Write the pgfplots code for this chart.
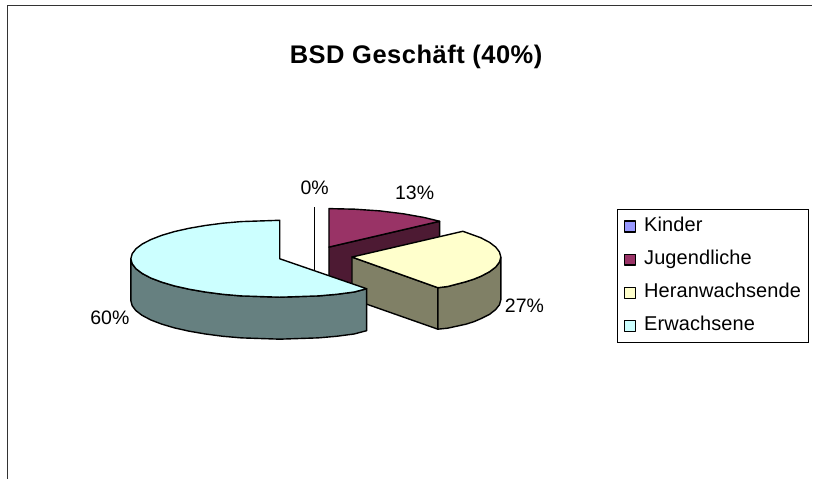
\documentclass[border=0pt]{standalone}
\usepackage{pgfplots}
\pgfplotsset{compat=1.18}
\usepackage{fontspec}
\setmainfont{Liberation Sans}
\definecolor{cKinder}{HTML}{9999FF}
\definecolor{cJugend}{HTML}{993366}
\definecolor{cJugendS}{HTML}{4D1A33}
\definecolor{cHeran}{HTML}{FFFFCC}
\definecolor{cHeranS}{HTML}{808066}
\definecolor{cErw}{HTML}{CCFFFF}
\definecolor{cErwS}{HTML}{668080}
\newcommand{\lab}{\fontsize{19.5}{22}\selectfont}
\begin{document}
\begin{tikzpicture}
\begin{axis}[
  width=813pt, height=479pt, scale only axis,
  xmin=0, xmax=813, ymin=0, ymax=479, y dir=reverse,
  hide axis,
  clip=false,
  every axis plot/.append style={line width=1.4pt, line join=round},
  legend style={at={(axis cs:617.3,209.3)}, anchor=north west,
    draw=black, line width=0.8pt, inner xsep=7pt, inner ysep=8pt,
    row sep=15.1pt,
    font=\fontsize{20}{22}\selectfont\addfontfeatures{LetterSpace=0.5},
    nodes={inner sep=0pt, text height=14pt, text depth=4pt},
    /tikz/column 1/.style={column sep=8pt}},
  legend cell align=left,
  legend image code/.code={
    \draw[#1, line width=1.1pt] (0pt,-5.5pt) rectangle (11pt,5.5pt);},
]
% keeps the whole canvas in the page
\addplot[forget plot, draw=none] coordinates {(0,0) (813,479)};
% frame of the chart area, cut off at right and bottom
\addplot[forget plot, black!80, line width=1.6pt] coordinates {(7.5,479) (7.5,5.5) (813,5.5)};

% Jugendliche 13%: side, then top
\addplot[forget plot, fill=cJugendS, draw=black] coordinates {
  (329.3,247.3) (440,221.5) (440,264) (329.3,290)} -- cycle;
\addplot[forget plot, fill=cJugend, draw=black] coordinates {
  (329.3,247.3) (329.3,208.8) (355.2,209.4) (380.3,211.1) (403.8,214) (425.1,217.8) (440,221.5)} -- cycle;

% Kinder 0%: only the edge of the empty slice
\addplot[forget plot, draw=black] coordinates {(315,207.3) (315,272)};

% Heranwachsende 27%: sides, then top
\addplot[forget plot, fill=cHeranS, draw=black] coordinates {
  (352.3,257.3) (438.3,288) (438.3,329.5) (352.3,299.3)} -- cycle;
\addplot[forget plot, fill=cHeranS, draw=black] coordinates {
  (438.3,288) (448.1,286.8) (466.4,282) (474.4,279.4) (481.3,276.6) (490,272) (496.2,267.3) (500,262.3) (501.3,257.3)
  (501.3,300) (500,305) (496.2,309.8) (490,314.7) (481.3,319) (474.4,322) (466.4,324.5) (448.1,328.5) (438.3,329.5)} -- cycle;
\addplot[forget plot, fill=cHeran, draw=black] coordinates {
  (352.3,257.3) (463.3,231.5) (481.3,238) (490,242.6) (496.2,247.3) (500,252.3) (501.3,257.3) (500,262.3) (496.2,267.3) (490,272)
  (481.3,276.6) (474.4,279.4) (466.4,282) (448.1,286.8) (438.3,288)} -- cycle;

% Erwachsene 60%: side, then top
\addplot[forget plot, fill=cErwS, draw=black] coordinates {
  (131,259) (132.3,264) (136.1,269) (142.3,273.7) (151,278.3) (161.8,282.4) (174.6,286.2) (189.3,289.5) (205.5,292.3) (223,294.6) (241.4,296.2) (280,297.5)
  (318.6,296.2) (337,294.6) (354.5,292.3) (367,289)
  (367,331) (354.5,334.3) (337,336.6) (318.6,338.2) (280,339.5) (241.4,338.2) (223,336.6) (205.5,334.3) (189.3,331.5)
  (174.6,328.2) (161.8,324.4) (151,320.3) (142.3,315.7) (136.1,311) (132.3,306) (131,301)} -- cycle;
\addplot[forget plot, fill=cErw, draw=black] coordinates {
  (280,259) (280,220.5) (241.4,221.8) (223,223.4) (205.5,225.7) (189.3,228.5) (174.6,231.8) (161.8,235.6) (151,239.8) (142.3,244.3) (136.1,249) (132.3,254)
  (131,259) (132.3,264) (136.1,269) (142.3,273.7) (151,278.3) (161.8,282.4) (174.6,286.2) (189.3,289.5) (205.5,292.3) (223,294.6) (241.4,296.2) (280,297.5)
  (318.6,296.2) (337,294.6) (354.5,292.3) (367,289)} -- cycle;

% legend
\addlegendimage{fill=cKinder, draw=black}
\addlegendentry{Kinder}
\addlegendimage{fill=cJugend, draw=black}
\addlegendentry{Jugendliche}
\addlegendimage{fill=cHeran, draw=black}
\addlegendentry{Heranwachsende}
\addlegendimage{fill=cErw, draw=black}
\addlegendentry{Erwachsene}

% title and data labels
\node[font=\fontsize{25.5}{28}\selectfont\bfseries\addfontfeatures{LetterSpace=2}] at (axis cs:416.5,57) {BSD Geschäft (40\%)};
\node[font=\lab] at (axis cs:315,187.5) {0\%};
\node[font=\lab] at (axis cs:415,192.5) {13\%};
\node[font=\lab] at (axis cs:525,306) {27\%};
\node[font=\lab] at (axis cs:110,318) {60\%};
\end{axis}
\end{tikzpicture}
\end{document}
